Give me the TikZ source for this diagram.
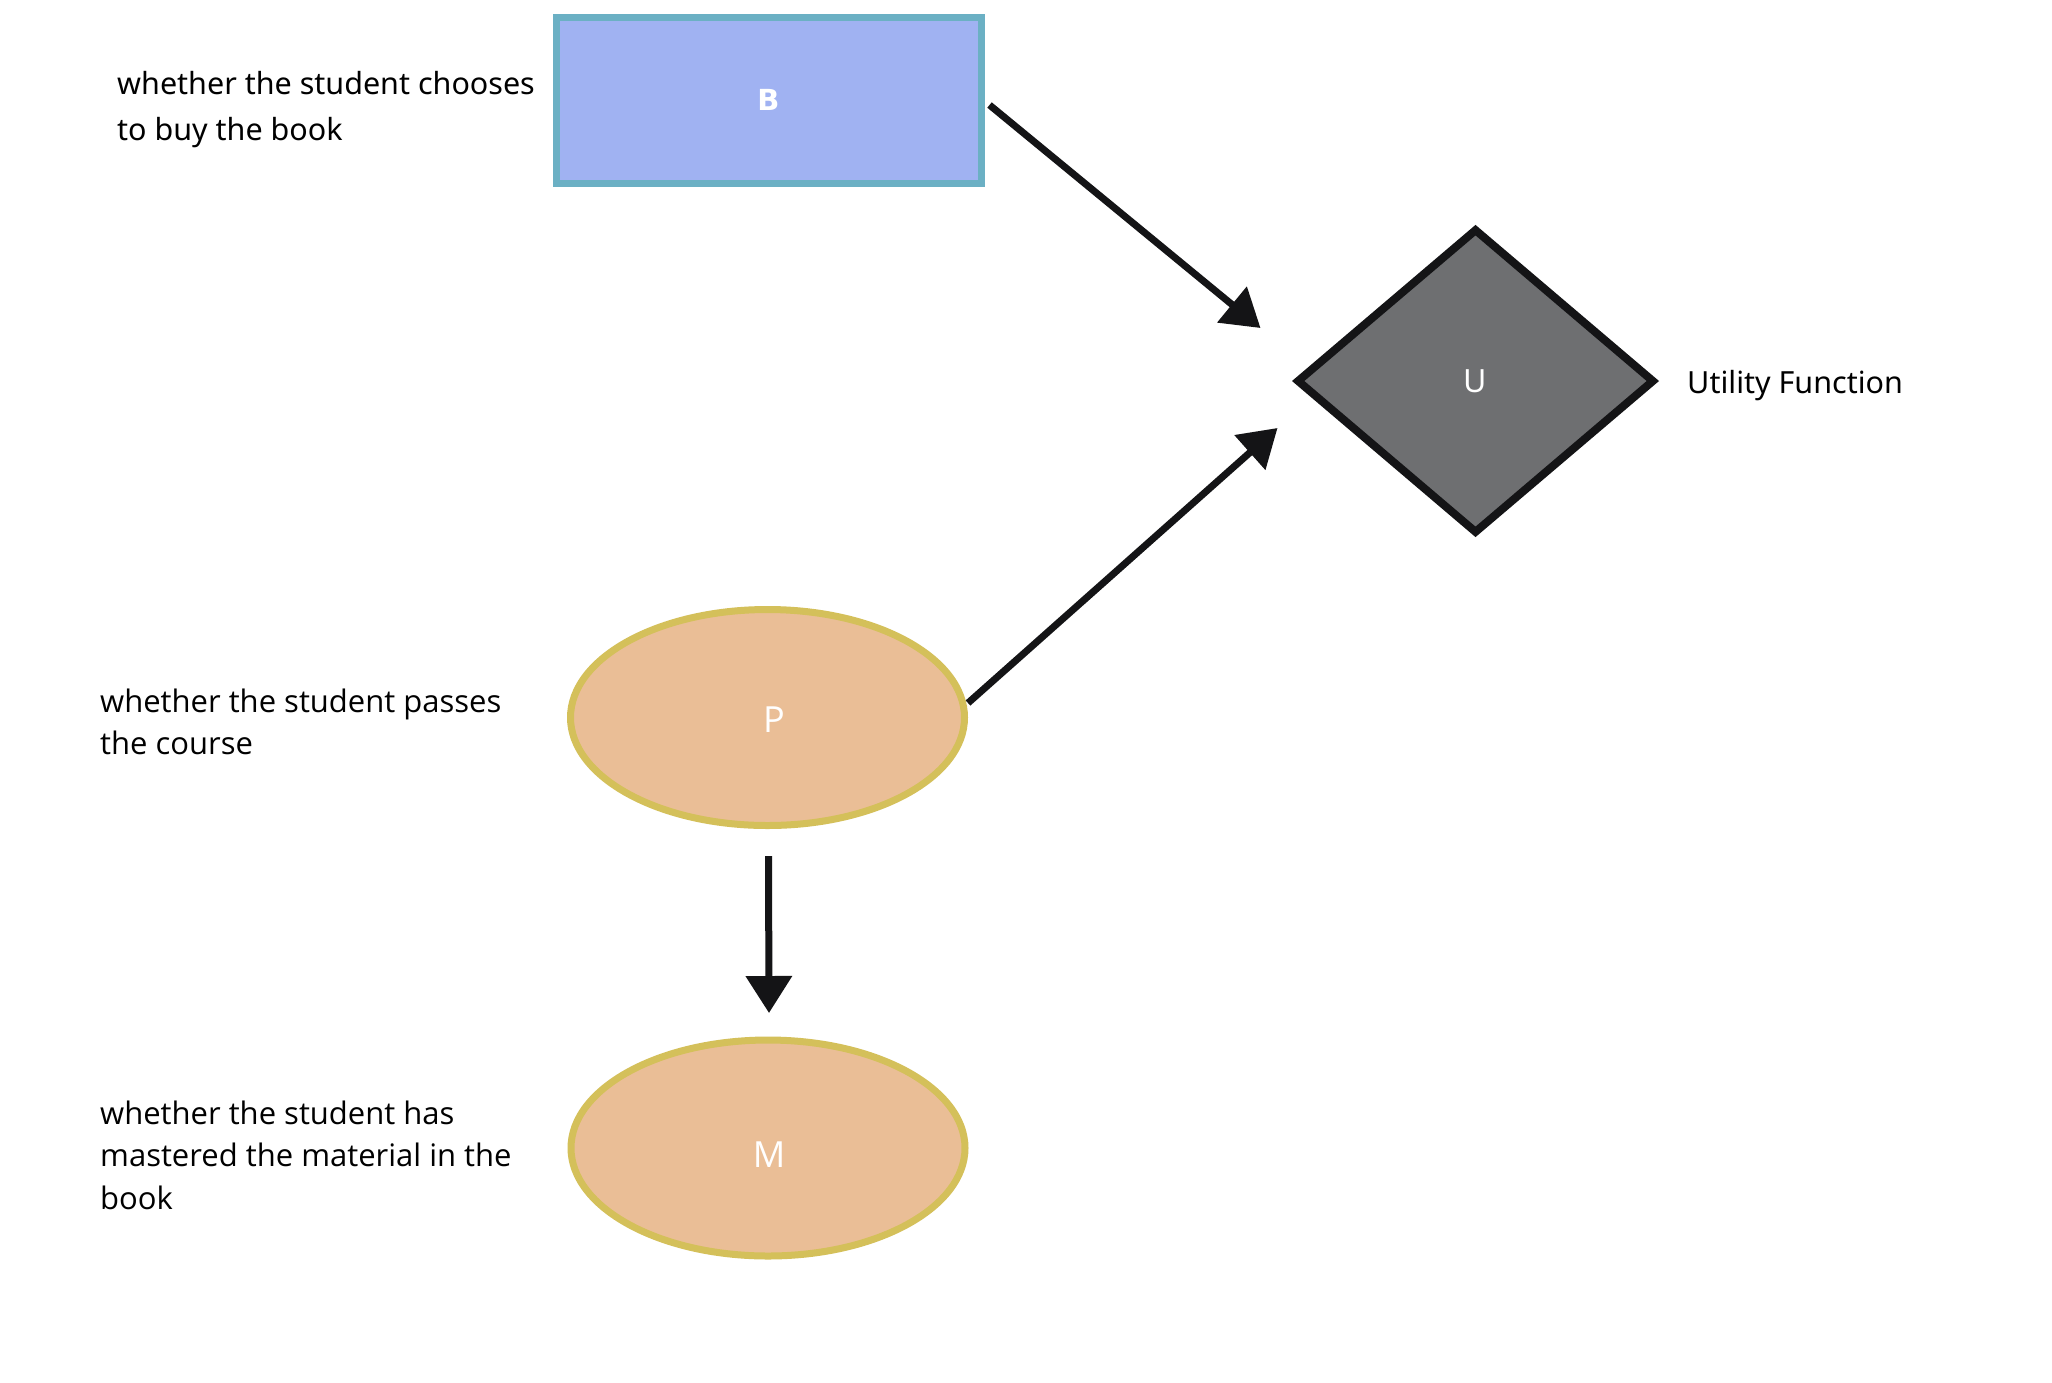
\documentclass[tikz,border=0pt]{standalone}
\usepackage{fontspec}
\setmainfont{Noto Sans}
\newfontfamily\opensans{Open Sans}
\newfontfamily\labelfont{DejaVu Sans}
\usetikzlibrary{shapes.geometric,arrows.meta,calc}
\definecolor{rectfill}{RGB}{160,178,242}
\definecolor{rectline}{RGB}{107,176,196}
\definecolor{ellfill}{RGB}{234,190,150}
\definecolor{ellline}{RGB}{212,192,90}
\definecolor{diafill}{RGB}{110,111,113}
\definecolor{inkdark}{RGB}{20,20,22}
\tikzset{
  decisionbox/.style={rectangle, draw=rectline, fill=rectfill, line width=7pt,
    minimum width=425pt, minimum height=166pt, inner sep=0pt,
    text=white, font=\labelfont\bfseries\fontsize{29}{36}\selectfont},
  chancebox/.style={ellipse, draw=ellline, fill=ellfill, line width=7pt,
    minimum width=394pt, minimum height=216pt, inner sep=0pt,
    text=white, font=\opensans\fontsize{36}{42}\selectfont},
  utilitybox/.style={diamond, draw=inkdark, fill=diafill, line width=8pt,
    minimum width=358pt, minimum height=305pt, inner sep=0pt,
    text=white, font=\fontsize{32}{38}\selectfont},
  desc/.style={anchor=base west, align=left, inner sep=0pt, text=black},
  link/.style={draw=inkdark, line width=7pt,
    -{Triangle[length=37pt,width=45pt]}},
}
\begin{document}
\begin{tikzpicture}[x=1pt,y=-1pt]
\path[use as bounding box, fill=white] (0,0) rectangle (2052,1382);

\node[decisionbox] (B) at (768.5,100) {B};
\node[utilitybox] (U) at (1475.5,381) {U};
\node[chancebox] (P) at (767.5,717.5) {\hspace*{13pt}\raisebox{-15.3pt}[0pt][0pt]{P}};
\node[chancebox] (M) at (768,1148) {\hspace*{2pt}\raisebox{-19.8pt}[0pt][0pt]{M}};

% base anchor of a multi-line node sits on its last line
\node[desc, font=\fontsize{30.5}{46}\selectfont] (tB) at (117,140)
  {whether the student chooses\\to buy the book};
\node[desc, font=\fontsize{30.5}{46}\selectfont] (tU) at (1687,393)
  {Utility Function};
\node[desc, font=\opensans\fontsize{31}{42}\selectfont] (tP) at (100,754)
  {whether the student passes\\the course};
\node[desc, font=\opensans\fontsize{31}{42.5}\selectfont] (tM) at (100,1209)
  {whether the student has\\mastered the material in the\\book};

\draw[link] ([shift={(5,5)}]B.east) -- ([shift={(-32,-53)}]U.west);
\draw[link] ([shift={(0,-14.5)}]P.east) -- ([shift={(-15,47)}]U.west);
\draw[link] ([shift={(1,27)}]P.south) -- ([shift={(1,-23.5)}]M.north);
\end{tikzpicture}
\end{document}
